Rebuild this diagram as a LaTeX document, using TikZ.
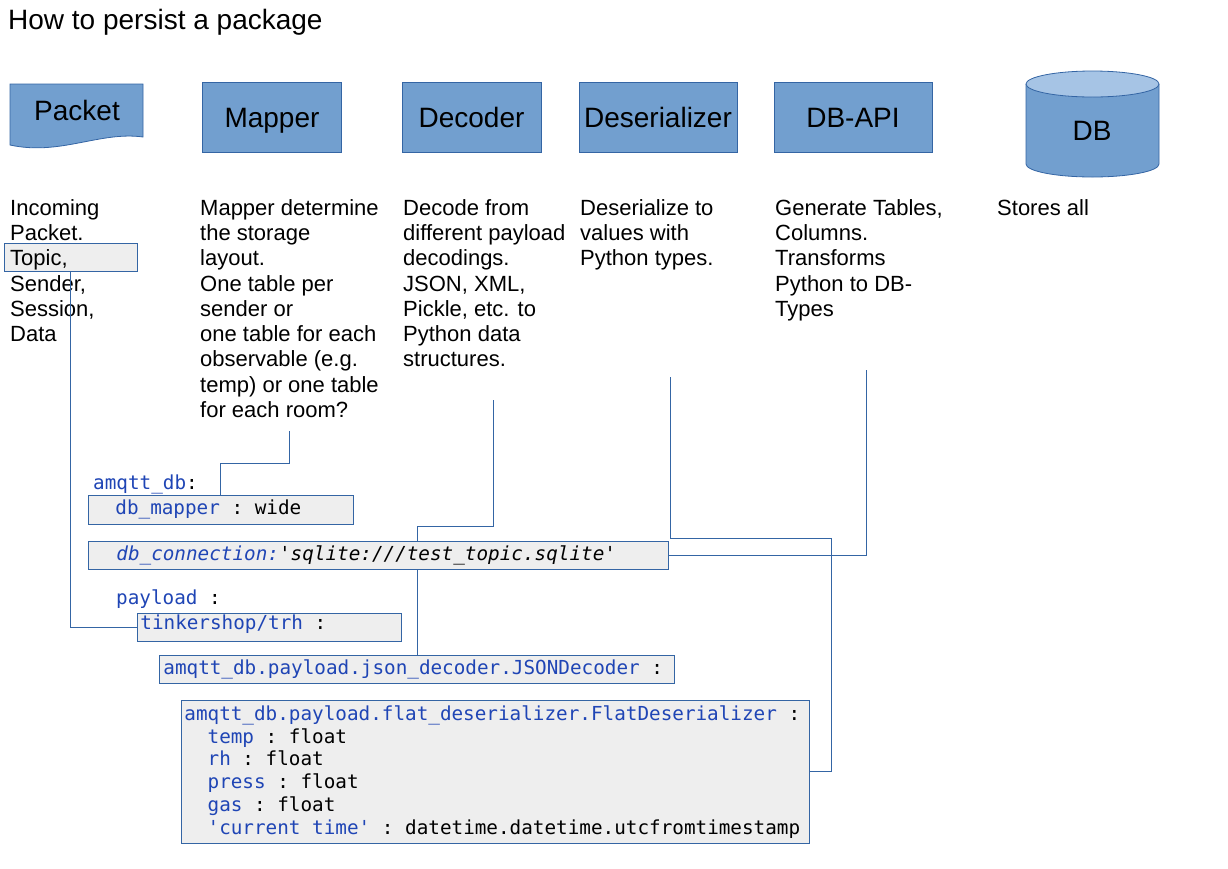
\documentclass[tikz,border=0pt]{standalone}
\usepackage{fontspec}
\setmainfont{Liberation Sans}
\setmonofont{DejaVu Sans Mono}
\usepackage{tikz}

\definecolor{boxblue}{HTML}{729FCF}
\definecolor{toplight}{HTML}{A6C4E5}
\definecolor{lineblue}{HTML}{3465A4}
\definecolor{codegray}{HTML}{EEEEEE}
\definecolor{codeblue}{HTML}{1F45B5}

\newcommand{\ind}{\hspace*{1.204em}}
\newcommand{\sk}{\hspace{0.602em}}
\newcommand{\codefont}{\ttfamily\fontsize{19.3}{22.7}\selectfont}

\tikzset{
    block/.style={draw=lineblue, fill=boxblue, line width=0.8pt, minimum height=70, text height=20, text depth=0, font=\fontsize{28}{33}\selectfont},
    desc/.style={anchor=north west, align=left, inner sep=0, font=\fontsize{22}{25.3}\selectfont},
    codebox/.style={draw=lineblue, fill=codegray, line width=0.8pt, anchor=north west, align=left, inner ysep=0, font=\codefont},
    codelabel/.style={anchor=base west, inner sep=0, font=\codefont},
    link/.style={draw=lineblue, line width=1pt}
}

\begin{document}
\begin{tikzpicture}[x=1pt, y=-1pt]
    \useasboundingbox (0,0) rectangle (1228,868);
    \node[anchor=north west, inner sep=0, font=\fontsize{28}{33}\selectfont] (title) at (8,9) {How to persist a package};

    \filldraw[fill=boxblue, draw=lineblue, line width=0.8pt] (10,84) -- (143,84) -- (143,137) .. controls (100,131) and (60,156) .. (10,145) -- cycle;
    \node[font=\fontsize{28}{33}\selectfont] (packet) at (77,110) {Packet};
    \node[block, minimum width=139] (mapper) at (272,117) {Mapper};
    \node[block, minimum width=139] (decoder) at (471.5,117) {Decoder};
    \node[block, minimum width=158] (deser) at (658,117) {Deserializer};
    \node[block, minimum width=158] (dbapi) at (853,117) {DB-API};

    \filldraw[fill=boxblue, draw=lineblue, line width=0.8pt] (1026,84) -- (1026,164) arc[start angle=180, end angle=0, x radius=66.5, y radius=13] -- (1159,84);
    \filldraw[fill=toplight, draw=lineblue, line width=0.8pt] (1092.5,84) ellipse[x radius=66.5, y radius=13];
    \node[font=\fontsize{28}{33}\selectfont] (db) at (1092,131) {DB};

    \node[draw=lineblue, fill=codegray, line width=0.8pt, minimum width=133, minimum height=28, inner sep=0, anchor=north west] (topic) at (4,243) {};
    \node[desc] (incoming) at (10,199) {Incoming\\Packet.\\Topic,\\Sender,\\Session,\\Data};
    \node[desc] (mapdesc) at (200,199) {Mapper determine\\the storage\\layout.\\One table per\\sender or\\one table for each\\observable (e.g.\\temp) or one table\\for each room?};
    \node[desc] (decdesc) at (403,199) {Decode from\\different payload\\decodings.\\JSON, XML,\\Pickle, etc. to\\Python data\\structures.};
    \node[desc] (desdesc) at (580,199) {Deserialize to\\values with\\Python types.};
    \node[desc] (apidesc) at (775,199) {Generate Tables,\\Columns.\\Transforms\\Python to DB-\\Types};
    \node[desc] (dbdesc) at (997,199) {Stores all};

    \node[codelabel] (amqtt) at (93,489) {\textcolor{codeblue}{amqtt\_db}:};
    \node[codebox, minimum height=29, text width=211, inner xsep=27] (mapbox) at (88,495) {\textcolor{codeblue}{db\_mapper}\sk:\sk wide};
    \node[codebox, minimum height=28, text width=524, inner xsep=28] (conbox) at (88,541) {\itshape\textcolor{codeblue}{db\_connection:}'sqlite:///test\_topic.sqlite'};
    \node[codelabel] (payload) at (116,604) {\textcolor{codeblue}{payload}\sk:};
    \node[codebox, text height=16, text depth=12, text width=258, inner xsep=3] (tinkbox) at (137,613) {\textcolor{codeblue}{tinkershop/trh}\sk:};
    \node[codebox, minimum height=28, text width=507, inner xsep=4] (jsonbox) at (159,655) {\textcolor{codeblue}{amqtt\_db.payload.json\_decoder.JSONDecoder}\sk:};
    \node[codebox, minimum height=143, text width=622, inner xsep=3] (flatbox) at (181,700) {\textcolor{codeblue}{amqtt\_db.payload.flat\_deserializer.FlatDeserializer}\sk:\\
        \ind\textcolor{codeblue}{temp}\sk:\sk float\\
        \ind\textcolor{codeblue}{rh}\sk:\sk float\\
        \ind\textcolor{codeblue}{press}\sk:\sk float\\
        \ind\textcolor{codeblue}{gas}\sk:\sk float\\
        \ind\textcolor{codeblue}{'current\sk time'}\sk:\sk datetime.datetime.utcfromtimestamp};

    \coordinate (mapend) at (289,431);
    \coordinate (decend) at (493,400);
    \coordinate (desend) at (670,377);
    \coordinate (apiend) at (866,370);
    \draw[link] (topic.south) |- (tinkbox.west);
    \draw[link] (mapend) -- ++(0,32) -| ([xshift=132]mapbox.north west);
    \draw[link] (decend) -- ++(0,126) -| ([xshift=329]conbox.north west);
    \draw[link] ([xshift=329]conbox.south west) -- ([xshift=258]jsonbox.north west);
    \draw[link] (desend) -- ++(0,161) -- ++(161,0) |- ([yshift=-71]flatbox.north east);
    \draw[link] (apiend) |- (conbox.east);
\end{tikzpicture}
\end{document}
